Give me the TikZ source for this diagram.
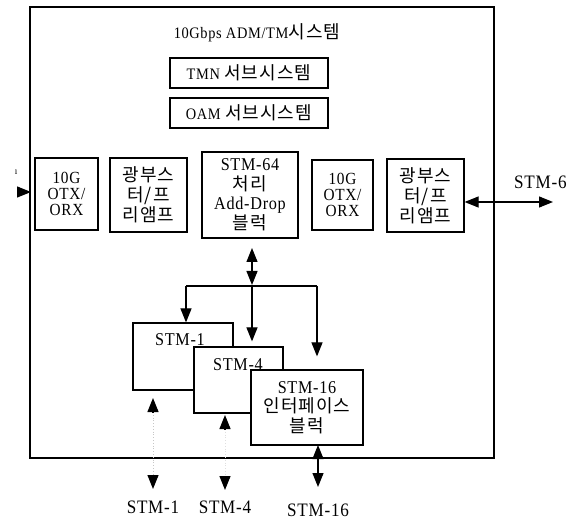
\documentclass[tikz,border=0pt]{standalone}
\usepackage{fontspec}
\setmainfont{Liberation Serif}[LetterSpace=4,FakeStretch=0.9]
\newfontfamily\krfont{Noto Sans CJK KR}[LetterSpace=6]
\newcommand\K[1]{{\fontsize{18}{19}\krfont #1}}
\usetikzlibrary{arrows.meta}
\begin{document}
\begin{tikzpicture}[x=1pt,y=-1pt,
  box/.style={draw,line width=1.2pt,inner sep=0pt,align=center,fill=white,
    font=\fontsize{17}{16}\selectfont},
  lbl/.style={inner sep=0pt,font=\fontsize{18}{20}\selectfont},
  big/.style={inner sep=0pt,font=\fontsize{19}{21}\selectfont},
  tri/.tip={Triangle[length=14pt,width=11pt]},
  arr/.style={line width=1.2pt,-tri},
  darr/.style={line width=1.2pt,tri-tri},
  ln/.style={line width=1.2pt},
  faint/.style={line width=0.8pt,gray!45,dotted}]
\useasboundingbox (0,0) rectangle (573,521);
% outer system box
\node[draw,line width=1.3pt,minimum width=464pt,minimum height=451pt,inner sep=0pt] (sys) at (262,232.5) {};
\node[inner sep=0pt,font=\fontsize{16}{18}\selectfont] (title) at (257,33) {10Gbps ADM/TM\K{시스템}};
\node[box,minimum width=158pt,minimum height=30pt,font=\fontsize{16}{18}\selectfont] (tmn) at (249,73) {TMN \K{서브시스템}};
\node[box,minimum width=158pt,minimum height=30pt,font=\fontsize{16}{18}\selectfont] (oam) at (249,113) {OAM \K{서브시스템}};
% row of blocks
\node[box,minimum width=63pt,minimum height=72pt] (otxL) at (66.5,194) {10G\\OTX/\\ORX};
\node[box,minimum width=77pt,minimum height=74pt,font=\fontsize{17}{20}\selectfont] (ampL) at (148.5,195) {\K{광부스}\\\K{터/프}\\\K{리앰프}};
\node[box,minimum width=96pt,minimum height=86pt,font=\fontsize{18}{19.5}\selectfont] (stm64) at (250,195) {STM-64\\\K{처리}\\Add-Drop\\\K{블럭}};
\node[box,minimum width=61pt,minimum height=70pt] (otxR) at (342.5,195) {10G\\OTX/\\ORX};
\node[box,minimum width=77pt,minimum height=73pt,font=\fontsize{17}{20}\selectfont] (ampR) at (425.5,195.5) {\K{광부스}\\\K{터/프}\\\K{리앰프}};
% interface blocks
\node[box,minimum width=100pt,minimum height=67pt] (stm1) at (183,356.5) {};
\node[lbl] (stm1t) at (180,340) {STM-1};
\node[box,minimum width=89pt,minimum height=66pt] (stm4) at (238.5,380) {};
\node[lbl] (stm4t) at (238,365) {STM-4};
\node[box,minimum width=112pt,minimum height=75pt,font=\fontsize{18}{19.5}\selectfont] (stm16) at (307,407.5) {STM-16\\\K{인터페이스}\\\K{블럭}};
% external labels
\node[inner sep=0pt,font=\fontsize{10}{12}\selectfont] (cut) at (16,172) {ı};
\node[big,anchor=west] (stm6t) at (514,182) {STM-6};
\node[big] (b1t) at (153,507) {STM-1};
\node[big] (b4t) at (225,507) {STM-4};
\node[big] (b16t) at (318,510) {STM-16};
% coordinates
\coordinate (inS) at (17,192);
\coordinate (inE) at (31,192);
\coordinate (outR) at (553,202);
\coordinate (a64) at (252,248);
\coordinate (j) at (252,286);
\coordinate (jl) at (186,286);
\coordinate (jr) at (317,286);
\coordinate (u1s) at (153,412);
\coordinate (u1e) at (153,398);
\coordinate (d1s) at (153,475);
\coordinate (d1e) at (153,489);
\coordinate (u4s) at (225,429);
\coordinate (u4e) at (225,415);
\coordinate (d4s) at (225,476);
\coordinate (d4e) at (225,490);
\coordinate (s16a) at (318,445);
\coordinate (s16b) at (318,487);
% connectors
\draw[arr] (inS) -- (inE);
\draw[darr] ([yshift=-6.5pt]ampR.east) -- (outR);
\draw[darr] (a64) -- ([yshift=1pt]j);
\draw[ln] (jl) -- (jr);
\draw[arr] (j) -- ([yshift=5pt]j |- stm4.north);
\draw[arr] (jl) -- (jl |- stm1.north);
\draw[arr] (jr) -- ([yshift=13pt]jr |- stm16.north);
\draw[faint] (u1s) -- (d1s);
\draw[faint,gray!25] (u4s) -- (d4s);
\draw[arr] (u1s) -- (u1e);
\draw[arr] (d1s) -- (d1e);
\draw[arr] (u4s) -- (u4e);
\draw[arr] (d4s) -- (d4e);
\draw[darr] (s16a) -- (s16b);
\end{tikzpicture}
\end{document}
